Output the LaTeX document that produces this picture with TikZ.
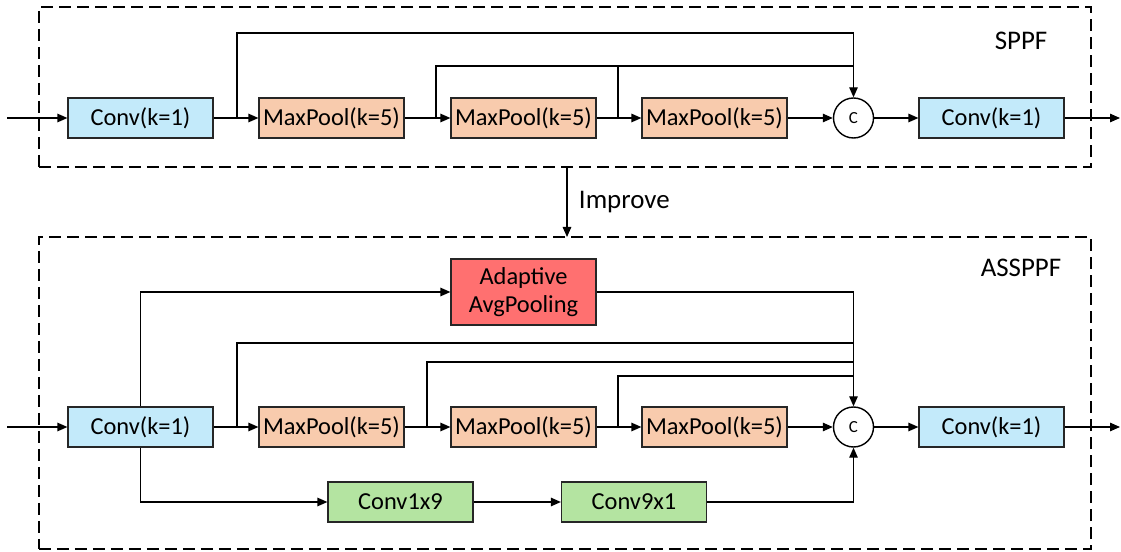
\documentclass[tikz,border=0pt]{standalone}
\usepackage{fontspec}
\setmainfont{Carlito}
\usetikzlibrary{arrows.meta,positioning,calc}
\definecolor{convblue}{HTML}{C3EAFA}
\definecolor{poolpeach}{HTML}{F8CBAD}
\definecolor{avgred}{HTML}{FF7070}
\definecolor{convgreen}{HTML}{B4E4A1}
\tikzset{
  blk/.style={draw=black!85, line width=1.2bp, minimum width=145bp, minimum height=40bp,
    inner sep=0pt, font=\fontsize{24.5}{28}\selectfont},
  convblk/.style={blk, fill=convblue},
  poolblk/.style={blk, fill=poolpeach},
  catnode/.style={draw, circle, line width=1.4bp, minimum size=40bp, inner sep=0pt,
    fill=white, font=\fontsize{17}{18}\selectfont},
  frame/.style={draw, line width=1.7bp, dash pattern=on 12bp off 6bp, minimum width=1052bp,
    inner sep=0pt},
  wire/.style={line width=1.3bp},
  arr/.style={wire, -{Triangle[length=10bp,width=8.5bp]}},
  title/.style={font=\fontsize{27}{32}\selectfont},
}
\begin{document}
\begin{tikzpicture}[x=1bp, y=-1bp]
\useasboundingbox (0,0) rectangle (1121,552);

% ---------------- SPPF ----------------
\node[frame, minimum height=160bp] (sppf) at (565,87) {};
\node[title] (sppflbl) at (1021,41) {SPPF};

\node[convblk] (c1) at (140.5,118) {Conv(k=1)};
\node[poolblk] (m1) at (331.5,118) {MaxPool(k=5)};
\node[poolblk] (m2) at (523.5,118) {MaxPool(k=5)};
\node[poolblk] (m3) at (714.5,118) {MaxPool(k=5)};
\node[catnode] (cat) at (853.5,118) {C};
\node[convblk] (c2) at (991.5,118) {Conv(k=1)};

\coordinate (in1) at (7,118);
\coordinate (out1) at (1120,118);
\coordinate (s1) at (237,118);
\coordinate (s2) at (436,118);
\coordinate (s3) at (618,118);
\coordinate (t1) at (853.5,33);
\coordinate (t2) at (853.5,66);

\draw[arr] (in1) -- (c1);
\draw[arr] (c1) -- (m1);
\draw[arr] (m1) -- (m2);
\draw[arr] (m2) -- (m3);
\draw[arr] (m3) -- (cat);
\draw[arr] (cat) -- (c2);
\draw[arr] (c2) -- (out1);
\draw[arr] (s1) |- (t1) -- (cat.north);
\draw[wire] (s2) |- (t2);
\draw[wire] (s3) -- (s3 |- t2);

% ---------------- Improve ----------------
\draw[arr] ([xshift=2bp]sppf.south) -- node[right=8bp, title, pos=0.5] {Improve} ([xshift=2bp]sppf.south |- 0,237);

% ---------------- ASSPPF ----------------
\node[frame, minimum height=312bp] (assppf) at (565,393) {};
\node[title] (assppflbl) at (1021,268) {ASSPPF};

\node[convblk] (d1) at (140.5,427) {Conv(k=1)};
\node[poolblk] (n1) at (331.5,427) {MaxPool(k=5)};
\node[poolblk] (n2) at (523.5,427) {MaxPool(k=5)};
\node[poolblk] (n3) at (714.5,427) {MaxPool(k=5)};
\node[catnode] (cat2) at (853.5,427) {C};
\node[convblk] (d2) at (991.5,427) {Conv(k=1)};
\node[blk, fill=avgred, minimum height=66bp, align=center,
      font=\fontsize{24.5}{28}\selectfont] (avg) at (523.5,292) {Adaptive\\AvgPooling};
\node[blk, fill=convgreen] (g1) at (400.5,502) {Conv1x9};
\node[blk, fill=convgreen] (g2) at (634,502) {Conv9x1};

\coordinate (in2) at (7,427);
\coordinate (out2) at (1120,427);
\coordinate (r1) at (237,427);
\coordinate (r2) at (427,427);
\coordinate (r3) at (618,427);
\coordinate (u0) at (853.5,292);
\coordinate (u1) at (853.5,343);
\coordinate (u2) at (853.5,362);
\coordinate (u3) at (853.5,376);

\draw[arr] (in2) -- (d1);
\draw[arr] (d1) -- (n1);
\draw[arr] (n1) -- (n2);
\draw[arr] (n2) -- (n3);
\draw[arr] (n3) -- (cat2);
\draw[arr] (cat2) -- (d2);
\draw[arr] (d2) -- (out2);
\draw[arr] (d1.north) |- (avg.west);
\draw[arr] (avg.east) -- (u0) -- (cat2.north);
\draw[wire] (r1) |- (u1);
\draw[wire] (r2) |- (u2);
\draw[wire] (r3) |- (u3);
\draw[arr] (d1.south) |- (g1.west);
\draw[arr] (g1) -- (g2);
\draw[arr] (g2.east) -| (cat2.south);
\end{tikzpicture}
\end{document}
